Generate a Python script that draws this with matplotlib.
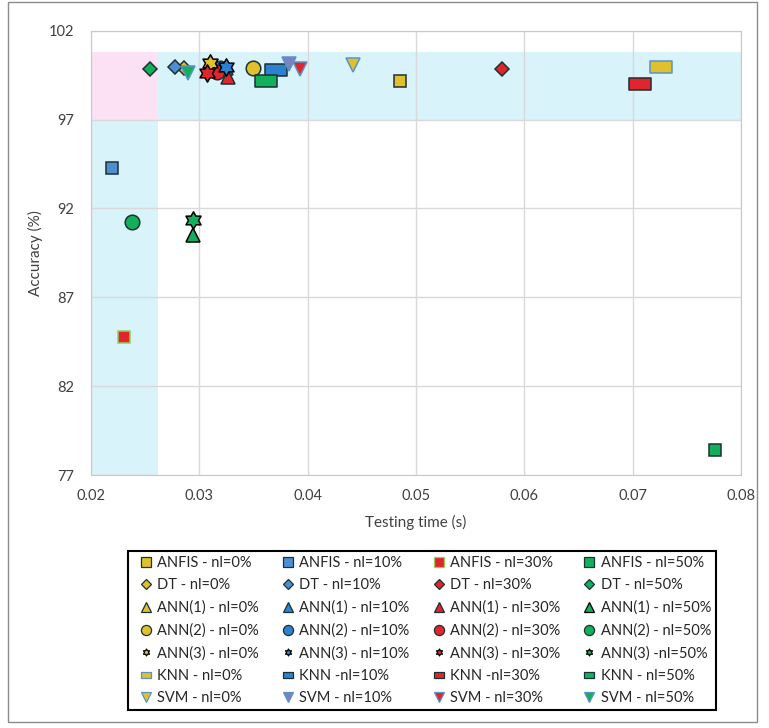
import matplotlib

matplotlib.use("Agg")
import matplotlib.pyplot as plt  # noqa: E402
from matplotlib.patches import Rectangle  # noqa: E402
from matplotlib.path import Path  # noqa: E402

plt.rcParams["font.family"] = ["Lato", "DejaVu Sans"]

noise_levels = ["0%", "10%", "30%", "50%"]
methods = ["ANFIS", "DT", "ANN(1)", "ANN(2)", "ANN(3)", "KNN", "SVM"]

# testing time (s) per method, one value per noise level
time_anfis = [0.0485, 0.02197, 0.02307, 0.0776]
time_dt = [0.02858, 0.02775, 0.0579, 0.02545]
time_ann1 = [0.0310, 0.0325, 0.03265, 0.02944]
time_ann2 = [0.03493, 0.0319, 0.03163, 0.02376]
time_ann3 = [0.0310, 0.03246, 0.03068, 0.02939]
time_knn = [0.07259, 0.03708, 0.07068, 0.03615]
time_svm = [0.04416, 0.0383, 0.0393, 0.02895]

# accuracy (%) per method, one value per noise level
acc_anfis = [99.19, 94.27, 84.75, 78.4]
acc_dt = [99.9, 99.96, 99.85, 99.85]
acc_ann1 = [100.05, 99.9, 99.4, 90.52]
acc_ann2 = [99.9, 99.9, 99.68, 91.21]
acc_ann3 = [100.19, 99.96, 99.64, 91.37]
acc_knn = [99.98, 99.81, 99.0, 99.16]
acc_svm = [100.07, 100.15, 99.87, 99.62]

legend_labels = [
    ["ANFIS - nl=0%", "ANFIS - nl=10%", "ANFIS - nl=30%", "ANFIS - nl=50%"],
    ["DT - nl=0%", "DT - nl=10%", "DT - nl=30%", "DT - nl=50%"],
    ["ANN(1) - nl=0%", "ANN(1) - nl=10%", "ANN(1) - nl=30%", "ANN(1) - nl=50%"],
    ["ANN(2) - nl=0%", "ANN(2) - nl=10%", "ANN(2) - nl=30%", "ANN(2) - nl=50%"],
    ["ANN(3) - nl=0%", "ANN(3) - nl=10%", "ANN(3) - nl=30%", "ANN(3) -nl=50%"],
    ["KNN - nl=0%", "KNN -nl=10%", "KNN -nl=30%", "KNN - nl=50%"],
    ["SVM - nl=0%", "SVM - nl=10%", "SVM - nl=30%", "SVM - nl=50%"],
]

times = [time_anfis, time_dt, time_ann1, time_ann2, time_ann3, time_knn, time_svm]
accs = [acc_anfis, acc_dt, acc_ann1, acc_ann2, acc_ann3, acc_knn, acc_svm]

YEL, RED, GRN = "#E0C02C", "#E0252D", "#12B05A"
BLU, BLU_L, SLATE = "#2A82D0", "#4D8FD2", "#7D80C2"
DARK, EDGE_B, EDGE_G = "#1D3033", "#5B93C6", "#93CF5A"

bar = Path([(-1, -0.55), (1, -0.55), (1, 0.55), (-1, 0.55), (-1, -0.55)],
           [Path.MOVETO, Path.LINETO, Path.LINETO, Path.LINETO, Path.CLOSEPOLY])
hexagram = Path.unit_regular_star(6, 0.577)

# marker, size in plot (pt), size in legend (pt), fills and edges per noise level
styles = [
    ("s", 9, 6.5, [YEL, BLU_L, RED, GRN], [DARK, DARK, EDGE_G, DARK]),
    ("D", 7.3, 5.0, [YEL, BLU_L, RED, GRN], [DARK, DARK, DARK, DARK]),
    ("^", 10, 7.0, [YEL, BLU, RED, GRN], [DARK, DARK, DARK, "black"]),
    ("o", 10.5, 7.3, [YEL, BLU, RED, GRN], [DARK, DARK, DARK, DARK]),
    (hexagram, 12.5, 5.0, [YEL, BLU, RED, GRN], ["black", "black", "black", "black"]),
    (bar, 16, 7.5, [YEL, BLU, RED, GRN], [EDGE_B, DARK, DARK, DARK]),
    ("v", 10, 6.5, [YEL, SLATE, RED, GRN], [EDGE_B, EDGE_B, EDGE_B, EDGE_B]),
]

fig = plt.figure(figsize=(7.69, 7.28), dpi=100)
ax = fig.add_axes([0.1183, 0.3475, 0.8453, 0.6103])

# highlighted regions: high-accuracy band and fast-testing band
ax.add_patch(Rectangle((0.02, 97), 0.0062, 3.8, facecolor="#FCE1F5", edgecolor="none", zorder=0))
ax.add_patch(Rectangle((0.0262, 97), 0.0538, 3.8, facecolor="#D8F3FA", edgecolor="none", zorder=0))
ax.add_patch(Rectangle((0.02, 77), 0.0062, 20, facecolor="#D8F3FA", edgecolor="none", zorder=0))

handles = {}
for i, (marker, ms, _, fills, edges) in enumerate(styles):
    for j in range(len(noise_levels)):
        (h,) = ax.plot([times[i][j]], [accs[i][j]], linestyle="none", marker=marker,
                       markersize=ms, markerfacecolor=fills[j], markeredgecolor=edges[j],
                       markeredgewidth=1.1, label=legend_labels[i][j], zorder=3)
        handles[(i, j)] = h

ax.set_xlim(0.02, 0.08)
ax.set_ylim(77, 102)
ax.set_xticks([0.02, 0.03, 0.04, 0.05, 0.06, 0.07, 0.08])
ax.set_xticklabels(["0.02", "0.03", "0.04", "0.05", "0.06", "0.07", "0.08"])
ax.set_yticks([77, 82, 87, 92, 97, 102])
ax.set_axisbelow(True)
ax.grid(True, color="#D9D9D9", lw=1.0)
for s in ax.spines.values():
    s.set_color("#C8C8C8")
ax.tick_params(length=0, labelsize=10.5, colors="#404040")
ax.tick_params(axis="y", pad=12)
ax.tick_params(axis="x", pad=10)
ax.set_xlabel("Testing time (s)", fontsize=11, color="#404040", labelpad=9)
ax.set_ylabel("Accuracy (%)", fontsize=11, color="#404040", labelpad=4)

# column-wise legend fill: one column per noise level
order = [(i, j) for j in range(len(noise_levels)) for i in range(len(methods))]
leg = fig.legend([handles[k] for k in order], [handles[k].get_label() for k in order],
                 ncol=4, loc="upper left", bbox_to_anchor=(0.1664, 0.0233, 0.765, 0.2198),
                 mode="expand", fontsize=10.5, frameon=True, fancybox=False,
                 edgecolor="black", framealpha=1, handlelength=1.75, handletextpad=-0.1,
                 labelspacing=0.57, borderpad=0.35, borderaxespad=0)
leg.get_frame().set_linewidth(1.5)
for k, lh in zip(order, leg.legend_handles):
    lh.set_markersize(styles[k[0]][2])
    lh.set_markeredgewidth(0.9)
for t in leg.get_texts():
    t.set_color("#262626")

fig.add_artist(Rectangle((8 / 769, 1 - 722 / 728), 749 / 769, 720 / 728,
                         transform=fig.transFigure, fill=False, edgecolor="#8C8C8C", lw=1.0))

fig.savefig("out.png", dpi=100)
